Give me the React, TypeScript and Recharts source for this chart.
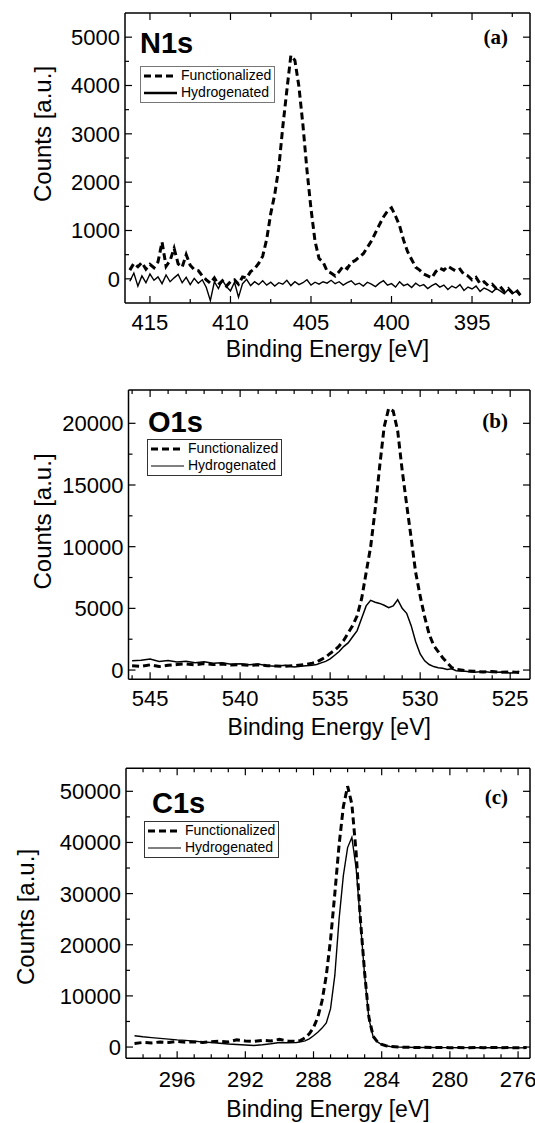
import React from "react";
import { Legend, Line, LineChart, XAxis, YAxis } from "recharts";

const SANS = "'Liberation Sans', Arial, Helvetica, sans-serif";
const SERIF = "'Liberation Serif', 'Times New Roman', serif";
const W = 535;
const XH = 55;

// ---- N1s ----
const n1sEnergy = [
	416.25, 416, 415.75, 415.5, 415.25, 415, 414.75, 414.5, 414.25, 414,
	413.75, 413.5, 413.25, 413, 412.75, 412.5, 412.25, 412, 411.75, 411.5,
	411.25, 411, 410.75, 410.5, 410.25, 410, 409.75, 409.5, 409.25, 409,
	408.75, 408.5, 408.25, 408, 407.75, 407.5, 407.25, 407, 406.75, 406.5,
	406.25, 406, 405.75, 405.5, 405.25, 405, 404.75, 404.5, 404.25, 404,
	403.75, 403.5, 403.25, 403, 402.75, 402.5, 402.25, 402, 401.75, 401.5,
	401.25, 401, 400.75, 400.5, 400.25, 400, 399.75, 399.5, 399.25, 399,
	398.75, 398.5, 398.25, 398, 397.75, 397.5, 397.25, 397, 396.75, 396.5,
	396.25, 396, 395.75, 395.5, 395.25, 395, 394.75, 394.5, 394.25, 394,
	393.75, 393.5, 393.25, 393, 392.75, 392.5, 392.25, 392,
];
const n1sFunctionalized = [
	180, 320, 250, 340, 200, 300, 230, 350, 760, 260,
	380, 630, 310, 240, 500, 280, 190, 170, 60, -20,
	-90, 20, -120, -40, -150, -60, -20, -110, 40, 20,
	150, 210, 320, 470, 820, 1350, 1750, 2300, 3150, 3900,
	4620, 4520, 3980, 3180, 2250, 1450, 780, 420, 350, 160,
	120, 60, 150, 260, 210, 340, 380, 450, 520, 650,
	780, 950, 1120, 1280, 1400, 1470, 1300, 1100, 800, 560,
	400, 240, 180, 100, 60, 20, 150, 220, 180, 260,
	210, 160, 200, 90, 60, -20, 30, -100, -60, -140,
	-110, -200, -160, -260, -200, -290, -230, -340,
];
const n1sHydrogenated = [
	-50, 120, -150, 60, -80, 100, -30, 40, -100, 80,
	-60, 20, 90, -80, 30, -120, 10, -90, -20, -180,
	-450, -60, -200, -30, -160, -250, -70, -380, -100, -10,
	-140, -60, -120, -40, -130, -70, -150, -80, -110, -30,
	-140, -60, -120, -80, -20, -130, -70, -110, -60, -90,
	-30, -100, -60, -130, -80, -40, -120, -90, -150, -70,
	-110, -160, -90, -40, -130, -100, -170, -60, -140, -110,
	-180, -90, -150, -120, -200, -140, -100, -170, -130, -220,
	-150, -190, -120, -240, -170, -210, -150, -260, -190, -230,
	-280, -200, -250, -310, -220, -300, -260, -330,
];
const n1sXMajor = [415, 410, 405, 400, 395];
const n1sXMinor = [412.5, 407.5, 402.5, 397.5, 392.5];
const n1sYMajor = [0, 1000, 2000, 3000, 4000, 5000];
const n1sYMinor = [500, 1500, 2500, 3500, 4500];

// ---- O1s ----
const o1sEnergy = [
	546, 545.5, 545, 544.5, 544, 543.5, 543, 542.5, 542, 541.5,
	541, 540.5, 540, 539.5, 539, 538.5, 538, 537.5, 537, 536.5,
	536, 535.75, 535.5, 535.25, 535, 534.75, 534.5, 534.25, 534, 533.75,
	533.5, 533.25, 533, 532.75, 532.5, 532.25, 532, 531.75, 531.5, 531.25,
	531, 530.75, 530.5, 530.25, 530, 529.75, 529.5, 529.25, 529, 528.75,
	528.5, 528.25, 528, 527.5, 527, 526.5, 526, 525.5, 525, 524.5,
];
const o1sFunctionalized = [
	350, 300, 420, 280, 380, 450, 500, 420, 520, 450,
	480, 400, 430, 380, 420, 350, 330, 300, 360, 420,
	550, 650, 850, 1050, 1350, 1600, 1950, 2400, 3000, 3600,
	4400, 5800, 7900, 10000, 13000, 16500, 19700, 21200, 21000, 19400,
	16200, 13400, 10700, 7900, 6000, 4300, 2900, 2000, 1500, 1000,
	600, 200, 60, -50, -100, -150, -120, -180, -140, -200,
];
const o1sHydrogenated = [
	750, 800, 900, 700, 780, 650, 720, 600, 680, 550,
	600, 480, 520, 430, 480, 350, 300, 380, 250, 330,
	380, 450, 580, 700, 900, 1200, 1500, 1900, 2200, 2700,
	3200, 4200, 5200, 5650, 5500, 5400, 5250, 5050, 5200, 5700,
	5000, 4600, 3600, 2300, 1300, 750, 450, 280, 180, 150,
	50, 100, -50, -100, -180, -120, -200, -150, -250, -100,
];
const o1sXMajor = [545, 540, 535, 530, 525];
const o1sXMinor = [
	546, 544, 543, 542, 541, 539, 538, 537, 536, 534, 533, 532, 531, 529, 528,
	527, 526,
];
const o1sYMajor = [0, 5000, 10000, 15000, 20000];
const o1sYMinor = [2500, 7500, 12500, 17500];

// ---- C1s ----
const c1sEnergy = [
	298.5, 298, 297.5, 297, 296.5, 296, 295.5, 295, 294.5, 294,
	293.5, 293, 292.5, 292, 291.5, 291, 290.5, 290, 289.5, 289,
	288.75, 288.5, 288.25, 288, 287.75, 287.5, 287.25, 287, 286.75, 286.5,
	286.25, 286, 285.75, 285.5, 285.25, 285, 284.75, 284.5, 284.25, 284,
	283.75, 283.5, 283, 282.5, 282, 281.5, 281, 280.5, 280, 279.5,
	279, 278.5, 278, 277.5, 277, 276.5, 276, 275.5,
];
const c1sFunctionalized = [
	700, 900, 800, 1000, 900, 1100, 950, 1000, 900, 1050,
	1150, 1000, 1400, 1200, 1100, 1300, 1200, 1500, 1200, 1100,
	1300, 1800, 2600, 3800, 5800, 9000, 14000, 21000, 30000, 39500,
	47000, 51000, 47500, 38000, 25000, 14500, 5800, 2100, 1000, 500,
	250, 100, 0, -50, -100, -60, -120, -80, -130, -90,
	-140, -100, -120, -80, -130, -100, -140, -110,
];
const c1sHydrogenated = [
	2200, 2000, 1850, 1700, 1550, 1400, 1300, 1150, 1000, 900,
	750, 600, 500, 400, 300, 450, 650, 900, 850, 900,
	1000, 1200, 1600, 2200, 2900, 3700, 4700, 7500, 14000, 25000,
	33500, 39000, 41000, 35000, 24500, 14000, 5500, 2000, 1000, 500,
	250, 100, 0, -50, -80, -100, -90, -120, -110, -130,
	-120, -140, -130, -150, -140, -150, -160, -150,
];
const c1sXMajor = [296, 292, 288, 284, 280, 276];
const c1sXMinor = [
	298, 297, 295, 294, 293, 291, 290, 289, 287, 286, 285, 283, 282, 281, 279,
	278, 277,
];
const c1sYMajor = [0, 10000, 20000, 30000, 40000, 50000];
const c1sYMinor = [5000, 15000, 25000, 35000, 45000];

const frame = { stroke: "#000", strokeWidth: 1.5 };

const bottomTick = (majors: number[], dy: number) => (props: any) => {
	const { x, y, payload } = props;
	const major = majors.includes(payload.value);
	return (
		<g>
			<line x1={x} x2={x} y1={y} y2={y - (major ? 7 : 4)} stroke="#000" strokeWidth={1.2} />
			{major && (
				<text x={x} y={y + dy} textAnchor="middle" fontFamily={SANS} fontSize={22} fill="#000">
					{payload.value}
				</text>
			)}
		</g>
	);
};

const topTick = (majors: number[]) => (props: any) => {
	const { x, y, payload } = props;
	const major = majors.includes(payload.value);
	return <line x1={x} x2={x} y1={y} y2={y + (major ? 7 : 4)} stroke="#000" strokeWidth={1.2} />;
};

const leftTick = (majors: number[]) => (props: any) => {
	const { x, y, payload } = props;
	const major = majors.includes(payload.value);
	return (
		<g>
			<line x1={x} x2={x + (major ? 7 : 4)} y1={y} y2={y} stroke="#000" strokeWidth={1.2} />
			{major && (
				<text x={x - 5} y={y} dy="0.36em" textAnchor="end" fontFamily={SANS} fontSize={22} fill="#000">
					{payload.value}
				</text>
			)}
		</g>
	);
};

const rightTick = (majors: number[]) => (props: any) => {
	const { x, y, payload } = props;
	const major = majors.includes(payload.value);
	return <line x1={x} x2={x - (major ? 7 : 4)} y1={y} y2={y} stroke="#000" strokeWidth={1.2} />;
};

interface PanelProps {
	top: number;
	height: number;
	margin: { top: number; right: number; bottom: number; left: number };
	yWidth: number;
	energy: number[];
	func: number[];
	hydro: number[];
	xDomain: [number, number];
	yDomain: [number, number];
	xMajor: number[];
	xMinor: number[];
	yMajor: number[];
	yMinor: number[];
	title: string;
	titleX: number;
	titleY: number;
	tag: string;
	tagY: number;
	yTitleX: number;
	yTitleY: number;
	xTitleY: number;
	xLabelDy: number;
	legend: { left: number; top: number };
	hydroWidth: number;
	legendHydroWidth: number;
	legendBorder: string;
}

function Panel(p: PanelProps) {
	const rows = p.energy.map((e, i) => ({ e, f: p.func[i], h: p.hydro[i] }));
	// top axis takes 1px above the plot, right axis 1px to its right
	const plotLeft = p.margin.left + p.yWidth;
	const plotRight = W - p.margin.right - 1;
	const xTicks = [...p.xMajor, ...p.xMinor];
	const yTicks = [...p.yMajor, ...p.yMinor];

	const legendContent = () => (
		<div
			style={{
				border: `1px solid ${p.legendBorder}`,
				background: "#fff",
				padding: "0px 3px 1px 3px",
				fontFamily: SANS,
				fontSize: 14,
				lineHeight: "17px",
				color: "#000",
				whiteSpace: "nowrap",
			}}
		>
			<div style={{ display: "flex", alignItems: "center" }}>
				<svg width={33} height={8}>
					<line x1={0} y1={4} x2={33} y2={4} stroke="#000" strokeWidth={3} strokeDasharray="7 4" />
				</svg>
				<span style={{ marginLeft: 4 }}>Functionalized</span>
			</div>
			<div style={{ display: "flex", alignItems: "center" }}>
				<svg width={33} height={8}>
					<line x1={0} y1={4} x2={33} y2={4} stroke="#000" strokeWidth={p.legendHydroWidth} />
				</svg>
				<span style={{ marginLeft: 4 }}>Hydrogenated</span>
			</div>
		</div>
	);

	return (
		<div style={{ position: "absolute", left: 0, top: p.top }}>
			<LineChart width={W} height={p.height} data={rows} margin={p.margin}>
				<XAxis
					xAxisId="b"
					dataKey="e"
					type="number"
					domain={p.xDomain}
					reversed
					allowDataOverflow
					ticks={xTicks}
					interval={0}
					tickSize={0}
					tickMargin={0}
					height={XH}
					axisLine={frame}
					tickLine={false}
					tick={bottomTick(p.xMajor, p.xLabelDy)}
				/>
				<XAxis
					xAxisId="t"
					orientation="top"
					dataKey="e"
					type="number"
					domain={p.xDomain}
					reversed
					allowDataOverflow
					ticks={xTicks}
					interval={0}
					tickSize={0}
					tickMargin={0}
					height={1}
					axisLine={frame}
					tickLine={false}
					tick={topTick(p.xMajor)}
				/>
				<YAxis
					yAxisId="l"
					type="number"
					domain={p.yDomain}
					allowDataOverflow
					ticks={yTicks}
					interval={0}
					tickSize={0}
					tickMargin={0}
					width={p.yWidth}
					axisLine={frame}
					tickLine={false}
					tick={leftTick(p.yMajor)}
				/>
				<YAxis
					yAxisId="r"
					orientation="right"
					type="number"
					domain={p.yDomain}
					allowDataOverflow
					ticks={yTicks}
					interval={0}
					tickSize={0}
					tickMargin={0}
					width={1}
					axisLine={frame}
					tickLine={false}
					tick={rightTick(p.yMajor)}
				/>
				<Line
					xAxisId="b"
					yAxisId="l"
					dataKey="h"
					type="linear"
					stroke="#000"
					strokeWidth={p.hydroWidth}
					dot={false}
					isAnimationActive={false}
				/>
				<Line
					xAxisId="b"
					yAxisId="l"
					dataKey="f"
					type="linear"
					stroke="#000"
					strokeWidth={3}
					strokeDasharray="7 4"
					dot={false}
					isAnimationActive={false}
				/>
				<Legend
					layout="vertical"
					align="center"
					verticalAlign="middle"
					content={legendContent}
					wrapperStyle={{ left: p.legend.left, top: p.legend.top, width: "auto" }}
				/>
				<text x={p.titleX} y={p.titleY} fontFamily={SANS} fontWeight="bold" fontSize={29} fill="#000">
					{p.title}
				</text>
				<text x={508} y={p.tagY} textAnchor="end" fontFamily={SERIF} fontWeight="bold" fontSize={21} fill="#000">
					{p.tag}
				</text>
				<text
					x={p.yTitleX}
					y={p.yTitleY}
					transform={`rotate(-90, ${p.yTitleX}, ${p.yTitleY})`}
					textAnchor="middle"
					fontFamily={SANS}
					fontSize={24}
					fill="#000"
				>
					Counts [a.u.]
				</text>
				<text
					x={(plotLeft + plotRight) / 2}
					y={p.xTitleY}
					textAnchor="middle"
					fontFamily={SANS}
					fontSize={23}
					fill="#000"
				>
					Binding Energy [eV]
				</text>
			</LineChart>
		</div>
	);
}

export default function App() {
	return (
		<div style={{ position: "absolute", left: 0, top: 0, width: W, height: 1123, background: "#fff" }}>
			<Panel
				top={0}
				height={370}
				margin={{ top: 12, right: 4, bottom: 12, left: 0 }}
				yWidth={125}
				energy={n1sEnergy}
				func={n1sFunctionalized}
				hydro={n1sHydrogenated}
				xDomain={[391.4, 416.55]}
				yDomain={[-500, 5500]}
				xMajor={n1sXMajor}
				xMinor={n1sXMinor}
				yMajor={n1sYMajor}
				yMinor={n1sYMinor}
				title="N1s"
				titleX={140}
				titleY={53}
				tag="(a)"
				tagY={44}
				yTitleX={51}
				yTitleY={134}
				xTitleY={357}
				xLabelDy={27}
				legend={{ left: 140, top: 66 }}
				hydroWidth={1.4}
				legendHydroWidth={2.5}
				legendBorder="#777"
			/>
			<Panel
				top={370}
				height={375}
				margin={{ top: 19, right: 4, bottom: 10.7, left: 0 }}
				yWidth={128.5}
				energy={o1sEnergy}
				func={o1sFunctionalized}
				hydro={o1sHydrogenated}
				xDomain={[523.9, 546.2]}
				yDomain={[-750, 22700]}
				xMajor={o1sXMajor}
				xMinor={o1sXMinor}
				yMajor={o1sYMajor}
				yMinor={o1sYMinor}
				title="O1s"
				titleX={148}
				titleY={62}
				tag="(b)"
				tagY={58}
				yTitleX={51}
				yTitleY={151.5}
				xTitleY={365}
				xLabelDy={27}
				legend={{ left: 147, top: 69 }}
				hydroWidth={1.5}
				legendHydroWidth={1}
				legendBorder="#333"
			/>
			<Panel
				top={745}
				height={378}
				margin={{ top: 22.3, right: 4, bottom: 9.7, left: 0 }}
				yWidth={126}
				energy={c1sEnergy}
				func={c1sFunctionalized}
				hydro={c1sHydrogenated}
				xDomain={[275.3, 299.0]}
				yDomain={[-2200, 54500]}
				xMajor={c1sXMajor}
				xMinor={c1sXMinor}
				yMajor={c1sYMajor}
				yMinor={c1sYMinor}
				title="C1s"
				titleX={152}
				titleY={68}
				tag="(c)"
				tagY={59}
				yTitleX={34}
				yTitleY={172}
				xTitleY={372}
				xLabelDy={29}
				legend={{ left: 144, top: 76 }}
				hydroWidth={1.4}
				legendHydroWidth={1}
				legendBorder="#333"
			/>
		</div>
	);
}
